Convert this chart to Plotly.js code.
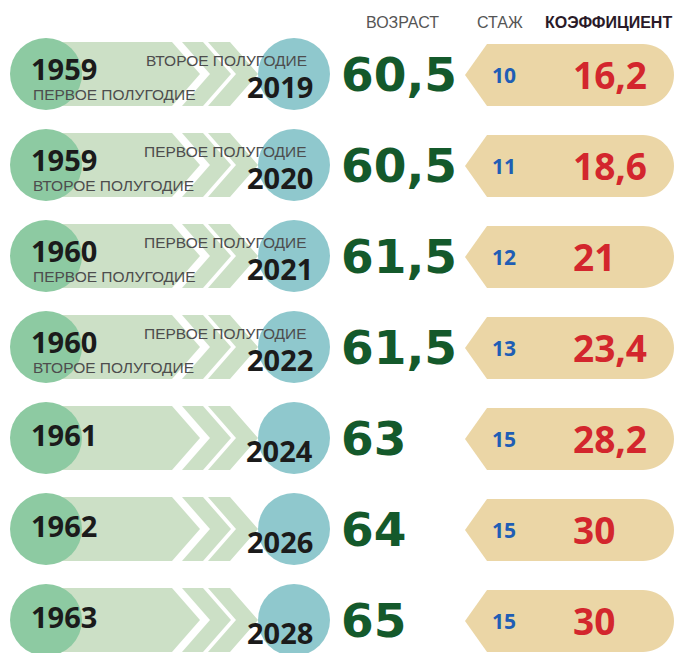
<!DOCTYPE html>
<html>
<head>
<meta charset="utf-8">
<script src="https://cdn.plot.ly/plotly-3.0.1.min.js"></script>
<style>html,body{margin:0;padding:0;background:#fff;}#chart{width:680px;height:653px;}</style>
</head>
<body>
<div id="chart"></div>
<script>
// ---- data ----
const birthYears  = ['1959', '1959', '1960', '1960', '1961', '1962', '1963'];
const birthHalves = ['ПЕРВОЕ ПОЛУГОДИЕ', 'ВТОРОЕ ПОЛУГОДИЕ', 'ПЕРВОЕ ПОЛУГОДИЕ', 'ВТОРОЕ ПОЛУГОДИЕ', '', '', ''];
const retireYears = ['2019', '2020', '2021', '2022', '2024', '2026', '2028'];
const retireHalves = ['ВТОРОЕ ПОЛУГОДИЕ', 'ПЕРВОЕ ПОЛУГОДИЕ', 'ПЕРВОЕ ПОЛУГОДИЕ', 'ПЕРВОЕ ПОЛУГОДИЕ', '', '', ''];
const ages = [60.5, 60.5, 61.5, 61.5, 63, 64, 65];
const stazh = [10, 11, 12, 13, 15, 15, 15];
const coefs = [16.2, 18.6, 21, 23.4, 28.2, 30, 30];
const headers = ['ВОЗРАСТ', 'СТАЖ', 'КОЭФФИЦИЕНТ'];

// ---- layout constants ----
const ROW0 = 74, ROWSTEP = 91;
const rowY = i => ROW0 + ROWSTEP * i;
const fmt = v => String(v).replace('.', ',');
const n = birthYears.length;

const C = {
  band: '#cce0c6', green: '#8dcaa2', teal: '#8fc8cd', tag: '#ebd6a6',
  age: '#14592b', red: '#d3262d', blue: '#1f5eb5', year: '#1b1b1b', sub: '#4d4d4d'
};

const shapes = [];
const annotations = [];
for (let i = 0; i < n; i++) {
  const y = rowY(i);
  const h = 32;
  // band with pointed end
  shapes.push({type: 'path', xref: 'x', yref: 'y', layer: 'below', line: {width: 0}, fillcolor: C.band,
    path: `M46,${y-h} L172,${y-h} L200,${y} L172,${y+h} L46,${y+h} Z`});
  // chevrons
  [[182, 203], [208, 230]].forEach(([a, b]) => {
    shapes.push({type: 'path', xref: 'x', yref: 'y', layer: 'below', line: {width: 0}, fillcolor: C.band,
      path: `M${a},${y-h} L${b},${y-h} L${b+28},${y} L${b},${y+h} L${a},${y+h} L${a+28},${y} Z`});
  });
  // tag
  const ty = y + 1, th = 31, r = 31, k = 17;
  shapes.push({type: 'path', xref: 'x', yref: 'y', layer: 'below', line: {width: 0}, fillcolor: C.tag,
    path: `M465,${ty} L487,${ty-th} L${674-r},${ty-th} C${674-r+k},${ty-th} 674,${ty-k} 674,${ty} ` +
          `C674,${ty+k} ${674-r+k},${ty+th} ${674-r},${ty+th} L487,${ty+th} Z`});

  const hasHalf = birthHalves[i] !== '';
  // left year
  annotations.push({x: 29, y: y - (hasHalf ? 6 : 4), text: birthYears[i], xanchor: 'left', yanchor: 'middle', showarrow: false,
    font: {family: 'Open Sans', size: 29, color: C.year, weight: 700}});
  if (hasHalf) {
    annotations.push({x: 31, y: y + 20, text: birthHalves[i], xanchor: 'left', yanchor: 'middle', showarrow: false,
      font: {family: 'Liberation Sans', size: 15.5, color: C.sub}});
    annotations.push({x: 309, y: y - 14, text: retireHalves[i], xanchor: 'right', yanchor: 'middle', showarrow: false,
      font: {family: 'Liberation Sans', size: 15.5, color: C.sub}});
  }
  annotations.push({x: 315, y: y + 12, text: retireYears[i], xanchor: 'right', yanchor: 'middle', showarrow: false,
    font: {family: 'Open Sans', size: 29, color: C.year, weight: 700}});
  // age
  annotations.push({x: 339, y: y, text: fmt(ages[i]), xanchor: 'left', yanchor: 'middle', showarrow: false,
    font: {family: 'DejaVu Sans', size: 47, color: C.age, weight: 700}});
  // stazh
  annotations.push({x: 504, y: y + 1, text: String(stazh[i]), xanchor: 'center', yanchor: 'middle', showarrow: false,
    font: {family: 'Open Sans', size: 21, color: C.blue, weight: 700}});
  // coefficient
  annotations.push({x: 571, y: y, text: fmt(coefs[i]), xanchor: 'left', yanchor: 'middle', showarrow: false,
    font: {family: 'Open Sans', size: 37, color: C.red, weight: 700}});
}
// headers
const headerX = [402, 500, 608];
headers.forEach((t, j) => {
  annotations.push({x: headerX[j], y: 22, text: t, xanchor: 'center', yanchor: 'middle', showarrow: false,
    font: {family: 'Liberation Sans', size: 16, color: j === 2 ? '#2a1a28' : '#555', weight: j === 2 ? 700 : 400}});
});

const rows = birthYears.map((_, i) => rowY(i));
const traces = [
  {type: 'scatter', mode: 'markers', x: rows.map(() => 46), y: rows, hoverinfo: 'skip',
   marker: {size: 72, color: C.green, line: {width: 0}}},
  {type: 'scatter', mode: 'markers', x: rows.map(() => 294), y: rows, hoverinfo: 'skip',
   marker: {size: 72, color: C.teal, line: {width: 0}}}
];

const layout = {
  width: 680, height: 653, margin: {l: 0, r: 0, t: 0, b: 0},
  paper_bgcolor: '#fff', plot_bgcolor: '#fff', showlegend: false,
  xaxis: {range: [0, 680], visible: false, fixedrange: true},
  yaxis: {range: [653, 0], visible: false, fixedrange: true},
  shapes, annotations
};
Plotly.newPlot('chart', traces, layout, {staticPlot: true, displayModeBar: false});
</script>
</body>
</html>
